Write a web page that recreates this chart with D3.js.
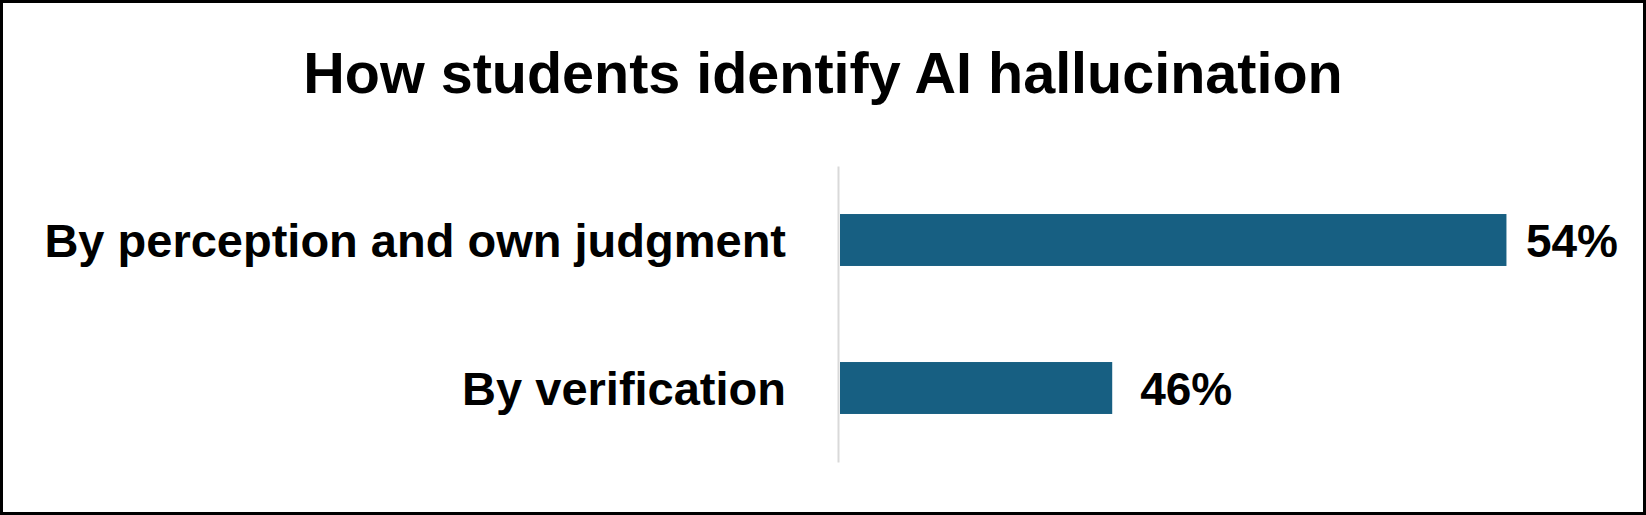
<!DOCTYPE html>
<html>
<head>
<meta charset="utf-8">
<script src="https://cdn.jsdelivr.net/npm/d3@7"></script>
<style>
  html, body { margin: 0; padding: 0; background: #fff; }
  svg { display: block; }
</style>
</head>
<body>
<svg width="1646" height="515"></svg>
<script>
var title = 'How students identify AI hallucination';
var categories = ['By perception and own judgment', 'By verification'];
var values = [54.2, 45.8];
var xDomain = [40, 55];

var svg = d3.select('svg');
var width = +svg.attr('width');
var height = +svg.attr('height');

var data = categories.map(function(c, i) { return { name: c, value: values[i] }; });

svg.append('rect')
    .attr('x', 1.5)
    .attr('y', 1.5)
    .attr('width', width - 3)
    .attr('height', height - 3)
    .attr('fill', '#fff')
    .attr('stroke', '#000')
    .attr('stroke-width', 3);

svg.append('text')
    .attr('x', 823)
    .attr('y', 93)
    .attr('text-anchor', 'middle')
    .style('font-family', '"Liberation Sans", Arial, sans-serif')
    .style('font-weight', 'bold')
    .style('font-size', '57.5px')
    .text(title);

var xScale = d3.scaleLinear()
    .domain(xDomain)
    .range([840, 1544]);

var yScale = d3.scaleBand()
    .domain(categories)
    .range([166, 462])
    .paddingInner(0.649)
    .paddingOuter(0.3245);

var barG = svg.append('g')
    .attr('class', 'bars-group');

barG.selectAll('.bar')
    .data(data)
    .enter()
    .append('rect')
    .attr('class', 'bar')
    .attr('x', xScale(xDomain[0]))
    .attr('y', function(d) { return yScale(d.name); })
    .attr('width', function(d) { return xScale(d.value) - xScale(xDomain[0]); })
    .attr('height', yScale.bandwidth())
    .style('fill', '#175f82');

// value labels sit right of the bar, but get pushed back inside the chart frame
var labelRight = 1618;
barG.selectAll('.value-label')
    .data(data)
    .enter()
    .append('text')
    .attr('class', 'value-label')
    .attr('y', function(d) { return yScale(d.name) + yScale.bandwidth() / 2; })
    .attr('dy', '0.36em')
    .style('font-family', '"Liberation Sans", Arial, sans-serif')
    .style('font-weight', 'bold')
    .style('font-size', '46px')
    .text(function(d) { return Math.round(d.value) + '%'; })
    .attr('x', function(d) {
        var w = this.getComputedTextLength();
        return Math.min(xScale(d.value) + 28, labelRight - w);
    });

var axisG = svg.append('g')
    .attr('class', 'y-axis')
    .attr('transform', 'translate(838,0)')
    .call(d3.axisLeft(yScale).tickSize(0).tickPadding(52));

axisG.select('.domain')
    .attr('stroke', '#d9d9d9')
    .attr('stroke-width', 2);

axisG.selectAll('text')
    .attr('dy', '0.36em')
    .attr('fill', '#000')
    .style('font-family', '"Liberation Sans", Arial, sans-serif')
    .style('font-weight', 'bold')
    .style('font-size', '47px');
</script>
</body>
</html>
